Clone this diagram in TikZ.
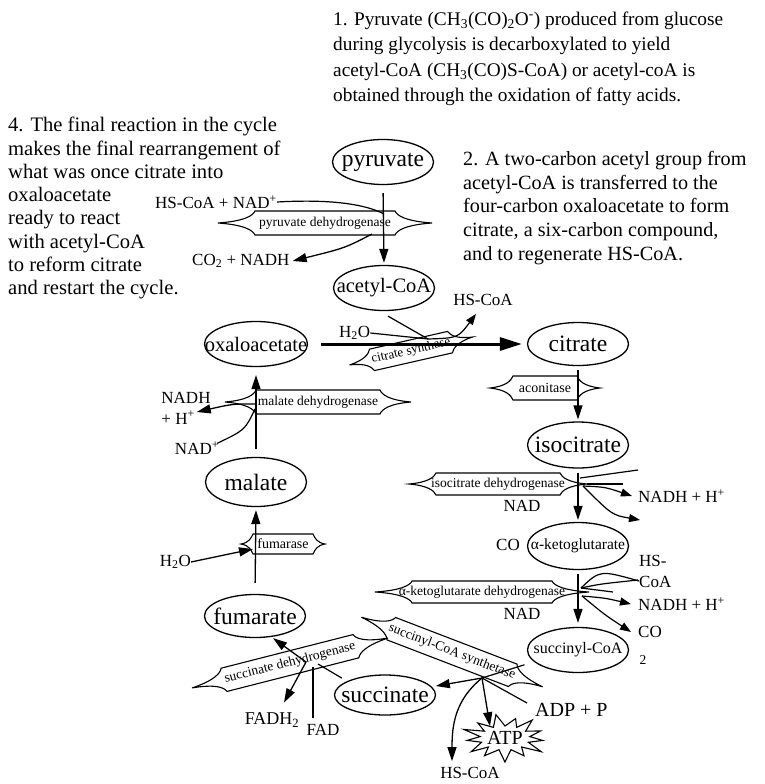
\documentclass[tikz,border=0pt]{standalone}
\usepackage{fontspec}
\setmainfont{Liberation Serif}
\usetikzlibrary{shapes.geometric,shapes.symbols,arrows.meta,calc}
\newcommand\enzshape[5]{\begin{scope}[shift={#1},rotate=#2]
\draw[enz] (-#3,0) .. controls ({-#4-0.3*(#3-#4)},{-0.15*#5}) and ({-#4-2},{-0.6*#5}) .. (-#4,-#5) -- (#4,-#5) .. controls ({#4+2},{-0.6*#5}) and ({#4+0.3*(#3-#4)},{-0.15*#5}) .. (#3,0) .. controls ({#4+0.3*(#3-#4)},{0.15*#5}) and ({#4+2},{0.6*#5}) .. (#4,#5) -- (-#4,#5) .. controls ({-#4-2},{0.6*#5}) and ({-#4-0.3*(#3-#4)},{0.15*#5}) .. cycle;
\end{scope}}
\begin{document}
\begin{tikzpicture}[x=1pt,y=-1pt,
 ell/.style={draw, ellipse, line width=1.3pt, minimum width=101pt, minimum height=45pt, inner xsep=-25pt, inner ysep=-4pt},
 big/.style={font=\fontsize{23.5}{26}\selectfont},
 mid/.style={font=\fontsize{20.5}{24}\selectfont},
 sml/.style={font=\fontsize{16}{19}\selectfont},
 arr/.style={-{Triangle[length=14pt,width=9pt]}, line width=1.3pt},
 arrs/.style={-{Triangle[length=11pt,width=8pt]}, line width=1.2pt},
 thickarr/.style={-{Triangle[length=22pt,width=13pt]}, line width=3pt},
 ln/.style={line width=1.2pt},
 enz/.style={line width=1.1pt},
 enzt/.style={font=\fontsize{13.5}{15}\selectfont, inner sep=0pt},
 lbl/.style={font=\fontsize{17}{21}\selectfont, inner sep=0pt},
 body/.style={align=left, inner sep=0pt, anchor=north west},
]
\useasboundingbox (0,0) rectangle (765,784);

% text blocks
\node[body, font=\fontsize{19.3}{25.2}\selectfont] (t1) at (333,12) {1. Pyruvate (CH\textsubscript{3}(CO)\textsubscript{2}O\textsuperscript{-}) produced from glucose\\during glycolysis is decarboxylated to yield\\acetyl-CoA (CH\textsubscript{3}(CO)S-CoA) or acetyl-coA is\\obtained through the oxidation of fatty acids.};
\node[body, font=\fontsize{20.6}{23.3}\selectfont] (t4) at (8,117) {4. The final reaction in the cycle\\makes the final rearrangement of\\what was once citrate into\\oxaloacetate\\ready to react\\with acetyl-CoA\\to reform citrate\\and restart the cycle.};
\node[body, font=\fontsize{20.2}{23.7}\selectfont] (t2) at (463,151) {2. A two-carbon acetyl group from\\acetyl-CoA is transferred to the\\four-carbon oxaloacetate to form\\citrate, a six-carbon compound,\\and to regenerate HS-CoA.};

% metabolites
\node[ell, big] (pyr) at (383,162) {pyruvate};
\node[ell, mid] (acoa) at (384,288) {acetyl-CoA};
\node[ell, mid, minimum width=103pt] (oxa) at (256,344) {oxaloacetate};
\node[ell, big, minimum height=43pt] (cit) at (578,344) {citrate};
\node[ell, big, minimum height=46pt] (iso) at (578,445) {isocitrate};
\node[ell, font=\fontsize{15.5}{18}\selectfont, minimum height=47pt] (akg) at (578,546) {α-ketoglutarate};
\node[ell, sml] (scoa) at (578,650) {succinyl-CoA};
\node[ell, big, minimum height=40pt] (succ) at (385,695) {succinate};
\node[ell, big, minimum height=43pt] (fum) at (255,616) {fumarate};
\node[ell, big, minimum height=49pt] (mal) at (256,482) {malate};

% enzymes
\enzshape{(325,223)}{0}{107}{70}{12}
\node[enzt] (pdh) at (325,223) {pyruvate dehydrogenase};
\enzshape{(411,351)}{12.8}{63}{40}{11}
\node[enzt, font=\fontsize{13}{15}\selectfont, rotate=12.8] (cs) at (411,351) {citrate synthase};
\enzshape{(545,388)}{0}{55}{32}{12}
\node[enzt, font=\fontsize{14}{15}\selectfont] (acon) at (545,388) {aconitase};
\enzshape{(498,484)}{0}{89}{62}{11}
\node[enzt] (idh) at (498,484) {isocitrate dehydrogenase};
\enzshape{(482,592)}{0}{107}{70}{11}
\node[enzt] (akgdh) at (482,592) {α-ketoglutarate dehydrogenase};
\enzshape{(452,652)}{-21}{97}{65}{12}
\node[enzt, rotate=-21] (scs) at (452,652) {succinyl-CoA synthetase};
\enzshape{(290,663)}{14.3}{101}{68}{12}
\node[enzt, rotate=14.3] (sdh) at (290,663) {succinate dehydrogenase};
\enzshape{(283,544)}{0}{42}{30}{10}
\node[enzt, font=\fontsize{14}{15}\selectfont] (fumase) at (283,544) {fumarase};
\enzshape{(318,402)}{0}{93}{62}{12}
\node[enzt] (mdh) at (318,402) {malate dehydrogenase};

% main arrows
\draw[arr, shorten <=8pt, shorten >=2pt] (pyr.south) -- (acoa.north);
\draw[thickarr, shorten <=13pt, shorten >=5pt] (oxa.east) -- (cit.west);
\draw[arr, shorten <=4pt, shorten >=2pt] (cit.south) -- (iso.north);
\draw[arr, shorten <=4pt, shorten >=2pt] (iso.south) -- (akg.north);
\draw[arr, shorten <=4pt, shorten >=4pt] (akg.south) -- (scoa.north);
\draw[arr, shorten <=11pt, shorten >=3pt] (fum.north) -- (mal.south);
\draw[arr, shorten <=8pt, shorten >=8pt] (mal.north) -- (oxa.south);

% pyruvate dehydrogenase side
\node[lbl, anchor=west] (nad1) at (155,202) {HS-CoA + NAD\textsuperscript{+}};
\node[lbl, anchor=west] (co2a) at (192,261) {CO\textsubscript{2} + NADH};
\coordinate (j1) at (384,214);
\coordinate (j2) at (372,234);
\draw[ln] (nad1.east) .. controls (330,199) and (365,204) .. (j1);
\draw[arr] (j2) .. controls (345,248) .. ([xshift=3pt]co2a.east);

% citrate synthase side
\node[lbl, anchor=west] (h2oa) at (339,333) {H\textsubscript{2}O};
\node[lbl] (hsa) at (483,300) {HS-CoA};
\coordinate (j3) at (428,339);
\draw[ln] (h2oa.east) -- (j3);
\draw[ln] ([shift={(4,5)}]acoa.south) -- (j3);
\draw[arrs] (j3) .. controls (458,338) .. ([shift={(-7,8)}]hsa.south);

% isocitrate dehydrogenase side
\coordinate (j4) at (580,478);
\coordinate (j4b) at (583,486);
\coordinate (f4a) at (638,470);
\coordinate (f4c) at (640,520);
\node[lbl, anchor=west] (nadh1) at (638,496) {NADH + H\textsuperscript{+}};
\node[lbl] (nad2) at (522,506) {NAD};
\node[lbl] (co1) at (508,545) {CO};
\draw[ln] (j4) -- (f4a);
\draw[ln] (587,484) -- (623,484);
\draw[arrs] (j4b) .. controls (605,487) .. ([xshift=-6pt]nadh1.west);
\draw[arrs] (j4b) .. controls (612,515) .. (f4c);

% alpha-ketoglutarate dehydrogenase side
\coordinate (j5) at (581,588);
\coordinate (j5b) at (582,596);
\node[lbl, align=left, anchor=west] (hsb) at (639,571) {HS-\\CoA};
\node[lbl, anchor=west] (nadh2) at (638,604) {NADH + H\textsuperscript{+}};
\node[lbl, anchor=west] (co2b) at (638,632) {CO};
\node[enzt] (two) at (643,660) {2};
\node[lbl] (nad3) at (522,614) {NAD};
\draw[ln] (j5) .. controls (600,570) .. ([yshift=-10pt]hsb.west);
\draw[ln] (j5) .. controls (600,584) .. ([shift={(-1,9)}]hsb.west);
\draw[ln] (j5) -- (613,592);
\draw[arrs] (j5b) .. controls (605,598) .. ([xshift=-7pt]nadh2.west);
\draw[arrs] (j5b) .. controls (605,615) .. ([xshift=-7pt]co2b.west);

% succinyl-CoA synthetase side
\coordinate (j6) at (482,678);
\node[inner sep=0pt, font=\fontsize{20}{22}\selectfont] (atp) at (505,738) {ATP};
\draw[line width=1.1pt] plot[samples at={0,...,25}] ({505+ifthenelse(mod(\x,2)==0,38+3*mod(\x,3),25)*cos(\x*360/26+7)}, {738+ifthenelse(mod(\x,2)==0,20+2*mod(\x,4),12)*sin(\x*360/26+7)}) -- cycle;
\node[lbl] (hsc) at (470,773) {HS-CoA};
\node[font=\fontsize{20}{22}\selectfont, inner sep=0pt, anchor=west] (adp) at (535,710) {ADP + P};
\draw[ln, shorten <=10pt] (scoa.195) -- (j6);
\draw[arr, shorten >=4pt] (j6) -- (succ.10);
\draw[arr] (j6) -- ([shift={(-15,-5)}]atp.north);
\draw[arr] (j6) .. controls (455,700) and (452,725) .. ([shift={(-18,-6)}]hsc.north);
\draw[ln] ([shift={(-8,-7)}]adp.west) -- (j6);

% succinate dehydrogenase side
\coordinate (j7) at (306,662);
\coordinate (j7b) at (313,667);
\coordinate (j7c) at (318,664);
\node[lbl, font=\fontsize{18}{20}\selectfont] (fadh) at (272,720) {FADH\textsubscript{2}};
\node[lbl] (fad) at (323,730) {FAD};
\draw[arr, shorten >=2pt] (j7) -- (fum.-52);
\draw[arr] (j7) -- ([shift={(12,-10)}]fadh.north);
\draw[ln] ([shift={(-10,-6)}]fad.north) -- (j7b);
\draw[ln, shorten <=6pt] (succ.160) -- (j7c);

% fumarase side
\node[lbl, anchor=east] (h2ob) at (191,562) {H\textsubscript{2}O};
\coordinate (j8) at (253,549);
\draw[arr] (h2ob.east) -- (j8);

% malate dehydrogenase side
\node[lbl, align=left] (nadh3) at (186,408) {NADH\\+ H\textsuperscript{+}};
\node[lbl] (nad4) at (197,448) {NAD\textsuperscript{+}};
\coordinate (j9) at (255,404);
\coordinate (j9b) at (255,409);
\draw[arr] (j9) .. controls (232,404) .. ([shift={(-14,4)}]nadh3.east);
\draw[ln] ([shift={(-2,2)}]nad4.north east) .. controls (245,430) .. (j9b);
\end{tikzpicture}
\end{document}
